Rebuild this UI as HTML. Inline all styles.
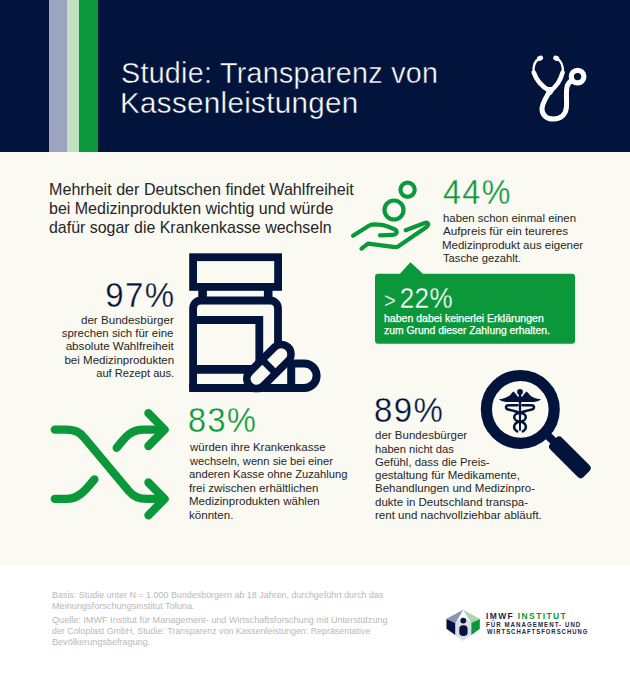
<!DOCTYPE html>
<html lang="de"><head><meta charset="utf-8"><title>Studie: Transparenz von Kassenleistungen</title>
<style>
html,body{margin:0;padding:0}
body{width:630px;height:681px;position:relative;overflow:hidden;background:#fff;font-family:"Liberation Sans",sans-serif}
#hd{position:absolute;left:0;top:0;width:630px;height:152px;background:#02143c}
#mid{position:absolute;left:0;top:152px;width:630px;height:413px;background:#faf9f2}
.s1,.s2,.s3{position:absolute;top:0;height:152px}
.s1{left:49px;width:18.4px;background:#9da4bf}
.s2{left:67.4px;width:11.7px;background:#c0e0c2}
.s3{left:79.1px;width:19px;background:#0b983a}
.t{position:absolute;white-space:nowrap;line-height:1;margin:0;padding:0}
.l{transform-origin:0 0}
.r{transform-origin:100% 0}
#ic{position:absolute;left:0;top:0}
</style></head><body>
<div id="hd"><div class="s1"></div><div class="s2"></div><div class="s3"></div></div>
<div id="mid"></div>
<svg id="ic" width="630" height="681" viewBox="0 0 630 681">
<!-- stethoscope -->
<g fill="none" stroke="#fff" stroke-linecap="round" stroke-linejoin="round">
<path d="M539.6 58.6C535.2 60.5 533 66 533.6 72.5" stroke-width="2.3"/>
<path d="M556.7 58.6C561 60.5 563.4 66 562.8 72.5" stroke-width="2.3"/>
<path d="M533.8 72.5C536.5 80.5 542 86.5 549 90.5" stroke-width="4.6"/>
<path d="M562.6 72.5C560.5 80.5 556.5 86.5 550.5 90.5" stroke-width="4.6"/>
<path d="M549.8 91C546 97.5 541.6 104 542 109.5C542.6 116 547.2 119 553.6 119C561 119 566 114.2 566.5 106.5C566.9 100 565.8 93 567 87C567.9 82.8 569.6 81.6 572 80.6" stroke-width="5"/>
<circle cx="577.6" cy="76.6" r="6.3" stroke-width="5.2"/>
</g>
<g fill="#fff"><ellipse cx="540" cy="58.3" rx="3.2" ry="2.4" transform="rotate(-25 540 58.3)"/><ellipse cx="556.3" cy="58.3" rx="3.2" ry="2.4" transform="rotate(25 556.3 58.3)"/><path d="M544.5 87L556 87L551.8 94.5L548.3 94.5Z"/></g>
<!-- hand with coins -->
<g fill="none" stroke="#0b983a" stroke-width="4.2" stroke-linecap="round" stroke-linejoin="round">
<circle cx="407.6" cy="189.8" r="7.1"/>
<circle cx="394" cy="210" r="9.5"/>
<path d="M353 235.7L368.5 226Q371 224.4 374 224.4L381 224.8Q384 225 387 226.2L392 228.3C398.5 230 398 235 392.5 234.8L380 235.3"/>
<path d="M361.5 248.6L368 243.6L395 247.2Q397.5 247.4 399.5 245.6L426.2 227.3C429.8 224.6 428 221.4 424 223.2L405.7 230.2"/>
</g>
<!-- bottle -->
<g fill="none" stroke="#02143c" stroke-width="7.8" stroke-linejoin="miter">
<rect x="193.1" y="257.2" width="85" height="29.7"/>
<path d="M202.6 288L202.6 299M268.2 288L268.2 299" stroke-width="8.6"/>
<path d="M193.1 390L193.1 308.5A8 8 0 0 1 201.1 300.5L270 300.5A8 8 0 0 1 278 308.5L278 346"/>
<path d="M193.1 320L259.3 320L259.3 369.4"/><path d="M193.1 369.4L259.3 369.4" stroke-width="8.8"/>
<path d="M189.2 388L304.4 388A12.2 12.2 0 0 0 304.4 363.6L291.2 363.6L291.2 388" stroke-width="8"/>
<g transform="rotate(-45 268.9 366.5)"><rect x="241.65" y="356.75" width="54.5" height="19.5" rx="9.75" fill="#faf9f2" stroke-width="7.5"/><path d="M268.9 356.75L268.9 376.25" stroke-width="7"/></g>
</g>
<!-- green callout -->
<path d="M378 273.7L399.9 273.7L410.4 262.2L422.9 273.7L572 273.7Q575 273.7 575 276.7L575 340.7Q575 343.7 572 343.7L378 343.7Q375 343.7 375 340.7L375 276.7Q375 273.7 378 273.7Z" fill="#0b983a"/>
<!-- shuffle -->
<g fill="none" stroke="#0b983a" stroke-width="8.3" stroke-linecap="round" stroke-linejoin="round">
<path d="M54.8 429.6L66 429.6C76 429.6 80 432.5 84.4 437.8L128.9 491.1C133.5 496.5 138 498.9 148 498.9L163 498.9"/>
<path d="M54.8 498.9L66 498.9C78 498.9 84 492 94.4 479.3"/>
<path d="M116.7 447.8C126 436 131 429.6 144 429.6L163 429.6"/>
<path d="M148.4 413.2L164.6 429.6L148.4 446"/>
<path d="M148.4 482.5L164.6 498.9L148.4 515.3"/>
</g>
<!-- magnifier -->
<g fill="#02143c">
<circle cx="520.3" cy="409.4" r="33.9" fill="none" stroke="#02143c" stroke-width="11.2"/>
<g transform="rotate(45 520.3 409.4)"><rect x="557" y="404.4" width="12" height="8"/><rect x="565.8" y="400" width="47" height="16.5" rx="4"/></g>
<!-- caduceus -->
<circle cx="520" cy="391.8" r="2.9"/>
<path d="M519.6 401.9L506 401.9Q501 401.6 499 399.3Q507 398.6 510.6 394.4Q512 392.2 513.5 391.4Q516 393.6 517.4 396.2L519.6 397.2Z"/>
<path d="M519.6 401.9L506 401.9Q501 401.6 499 399.3Q507 398.6 510.6 394.4Q512 392.2 513.5 391.4Q516 393.6 517.4 396.2L519.6 397.2Z" transform="translate(1040 0) scale(-1 1)"/>
<path d="M518.7 394L521.3 394L520.9 430.8L519.1 430.8Z"/>
<g fill="none" stroke="#02143c" stroke-width="2.5" stroke-linecap="round">
<path d="M517.5 405.3L509 405.3C505 405.3 505 409 509 409.8C514 410.8 518 412 520 413.5"/>
<path d="M522.5 405.3L531 405.3C535 405.3 535 409 531 409.8C526 410.8 522 412 520 413.5"/>
<ellipse cx="520" cy="417.2" rx="5.8" ry="4.2"/>
<path d="M520 421.3C513 423 512.6 429 517.2 431.4"/>
<path d="M520 421.3C527 423 527.4 429 522.8 431.4"/>
</g>
</g>
<!-- logo -->
<g>
<path d="M463 610L479.8 619L479.8 628.8L463 641L446.5 628.8L446.5 619Z" fill="#dcdde9"/>
<path d="M463 610L470.6 621L463 618L456.6 621Z" fill="#fff"/>
<path d="M446.5 618.8L463 610L456.6 621L455.2 623Z" fill="#8d94ae"/>
<path d="M479.8 618.8L463 610L470.6 621L471.4 623Z" fill="#a9d6ae"/>
<path d="M446.5 619L455.2 622.9L455.2 634.9L446.5 628.7Z" fill="#02143c"/>
<path d="M479.8 619L471.4 622.9L471.4 634.9L479.8 628.7Z" fill="#0b983a"/>
<circle cx="463.3" cy="620.6" r="2.9" fill="#02143c"/>
<rect x="459.3" y="625.2" width="8.3" height="10.9" rx="3.8" fill="#02143c"/>
</g>
</svg>
<div class="t l" style="top:58.00px;font-size:30.2px;color:#ffffff;letter-spacing:0.3px;-webkit-text-stroke:0.45px #02143c;left:121.04px;transform:scaleX(0.9494)">Studie: Transparenz von</div>
<div class="t l" style="top:88.00px;font-size:30.2px;color:#ffffff;letter-spacing:0.3px;-webkit-text-stroke:0.45px #02143c;left:120.00px;transform:scaleX(0.9813)">Kassenleistungen</div>
<div class="t l" style="top:181.00px;font-size:16.1px;color:#262626;left:48.75px;transform:scaleX(1.0010)">Mehrheit der Deutschen findet Wahlfreiheit</div>
<div class="t l" style="top:200.00px;font-size:16.1px;color:#262626;left:49.01px;transform:scaleX(0.9937)">bei Medizinprodukten wichtig und würde</div>
<div class="t l" style="top:219.00px;font-size:16.1px;color:#262626;left:49.26px;transform:scaleX(0.9901)">dafür sogar die Krankenkasse wechseln</div>
<div class="t r" style="top:277.00px;font-size:35px;color:#02143c;letter-spacing:1.5px;-webkit-text-stroke:0.35px #faf9f2;right:454.05px;transform:scaleX(0.9429)">97%</div>
<div class="t r" style="top:314.00px;font-size:11.6px;color:#262626;right:456.64px;transform:scaleX(1.0005)">der Bundesbürger</div>
<div class="t r" style="top:327.00px;font-size:11.6px;color:#262626;right:456.27px;transform:scaleX(0.9845)">sprechen sich für eine</div>
<div class="t r" style="top:340.00px;font-size:11.6px;color:#262626;right:456.61px;transform:scaleX(1.0033)">absolute Wahlfreiheit</div>
<div class="t r" style="top:354.00px;font-size:11.6px;color:#262626;right:455.98px;transform:scaleX(0.9959)">bei Medizinprodukten</div>
<div class="t r" style="top:367.00px;font-size:11.6px;color:#262626;right:455.77px;transform:scaleX(0.9605)">auf Rezept aus.</div>
<div class="t l" style="top:174.00px;font-size:35px;color:#0b983a;letter-spacing:1.5px;-webkit-text-stroke:0.35px #faf9f2;left:443.08px;transform:scaleX(0.9230)">44%</div>
<div class="t l" style="top:212.00px;font-size:11.6px;color:#262626;left:442.56px;transform:scaleX(0.9828)">haben schon einmal einen</div>
<div class="t l" style="top:225.00px;font-size:11.6px;color:#262626;left:443.30px;transform:scaleX(1.0110)">Aufpreis für ein teureres</div>
<div class="t l" style="top:239.00px;font-size:11.6px;color:#262626;left:442.31px;transform:scaleX(0.9912)">Medizinprodukt aus eigener</div>
<div class="t l" style="top:252.00px;font-size:11.6px;color:#262626;left:443.06px;transform:scaleX(0.9678)">Tasche gezahlt.</div>
<div class="t l" style="top:284.00px;font-size:28.6px;color:#ffffff;letter-spacing:0.4px;-webkit-text-stroke:0.3px #0b983a;left:383.86px;transform:scaleX(0.9110)"><span style="font-size:22px;margin-right:4px;position:relative;top:-0.5px">&gt;</span>22%</div>
<div class="t l" style="top:314.00px;font-size:10.4px;color:#ffffff;-webkit-text-stroke:0.25px #ffffff;left:383.99px;transform:scaleX(1.0131)">haben dabei keinerlei Erklärungen</div>
<div class="t l" style="top:326.00px;font-size:10.4px;color:#ffffff;-webkit-text-stroke:0.25px #ffffff;left:384.25px;transform:scaleX(0.9973)">zum Grund dieser Zahlung erhalten.</div>
<div class="t l" style="top:402.00px;font-size:35px;color:#0b983a;letter-spacing:1.5px;-webkit-text-stroke:0.35px #faf9f2;left:188.38px;transform:scaleX(0.9286)">83%</div>
<div class="t l" style="top:441.00px;font-size:11.6px;color:#262626;left:189.50px;transform:scaleX(0.9872)">würden ihre Krankenkasse</div>
<div class="t l" style="top:455.00px;font-size:11.6px;color:#262626;left:189.50px;transform:scaleX(0.9642)">wechseln, wenn sie bei einer</div>
<div class="t l" style="top:468.00px;font-size:11.6px;color:#262626;left:189.02px;transform:scaleX(0.9636)">anderen Kasse ohne Zuzahlung</div>
<div class="t l" style="top:482.00px;font-size:11.6px;color:#262626;left:189.25px;transform:scaleX(0.9984)">frei zwischen erhältlichen</div>
<div class="t l" style="top:495.00px;font-size:11.6px;color:#262626;left:188.51px;transform:scaleX(0.9942)">Medizinprodukten wählen</div>
<div class="t l" style="top:509.00px;font-size:11.6px;color:#262626;left:188.75px;transform:scaleX(0.9988)">könnten.</div>
<div class="t l" style="top:392.00px;font-size:35px;color:#02143c;letter-spacing:1.5px;-webkit-text-stroke:0.35px #faf9f2;left:374.05px;transform:scaleX(0.9429)">89%</div>
<div class="t l" style="top:429.00px;font-size:11.6px;color:#262626;left:375.20px;transform:scaleX(0.9930)">der Bundesbürger</div>
<div class="t l" style="top:443.00px;font-size:11.6px;color:#262626;left:374.98px;transform:scaleX(0.9622)">haben nicht das</div>
<div class="t l" style="top:456.00px;font-size:11.6px;color:#262626;left:375.21px;transform:scaleX(0.9772)">Gefühl, dass die Preis-</div>
<div class="t l" style="top:469.00px;font-size:11.6px;color:#262626;left:375.21px;transform:scaleX(0.9900)">gestaltung für Medikamente,</div>
<div class="t l" style="top:482.00px;font-size:11.6px;color:#262626;left:374.71px;transform:scaleX(0.9928)">Behandlungen und Medizinpro-</div>
<div class="t l" style="top:496.00px;font-size:11.6px;color:#262626;left:375.20px;transform:scaleX(0.9935)">dukte in Deutschland transpa-</div>
<div class="t l" style="top:509.00px;font-size:11.6px;color:#262626;left:374.95px;transform:scaleX(0.9955)">rent und nachvollziehbar abläuft.</div>
<div class="t l" style="top:591.00px;font-size:8.8px;color:#b9b9b9;left:51.54px;transform:scaleX(1.0151)">Basis: Studie unter N = 1.000 Bundesbürgern ab 18 Jahren, durchgeführt durch das</div>
<div class="t l" style="top:602.00px;font-size:8.8px;color:#b9b9b9;left:51.52px;transform:scaleX(1.0387)">Meinungsforschungsinstitut Toluna.</div>
<div class="t l" style="top:616.00px;font-size:8.8px;color:#b9b9b9;left:51.78px;transform:scaleX(1.0337)">Quelle: IMWF Institut für Management- und Wirtschaftsforschung mit Unterstützung</div>
<div class="t l" style="top:627.00px;font-size:8.8px;color:#b9b9b9;left:52.05px;transform:scaleX(1.0078)">der Coloplast GmbH, Studie: Transparenz von Kassenleistungen: Repräsentative</div>
<div class="t l" style="top:638.00px;font-size:8.8px;color:#b9b9b9;left:51.53px;transform:scaleX(1.0315)">Bevölkerungsbefragung.</div>
<div class="t l" style="top:612.00px;font-size:9.1px;color:#1d2547;font-weight:700;letter-spacing:1.5px;left:486.24px;transform:scaleX(0.9294)">IMWF <span style="color:#0b983a">INSTITUT</span></div>
<div class="t l" style="top:622.00px;font-size:6.4px;color:#1d2547;font-weight:700;letter-spacing:1.1px;left:486.22px;transform:scaleX(0.9561)">FÜR MANAGEMENT- UND</div>
<div class="t l" style="top:629.00px;font-size:6.4px;color:#1d2547;font-weight:700;letter-spacing:1.1px;left:486.70px;transform:scaleX(0.9238)">WIRTSCHAFTSFORSCHUNG</div>
</body></html>
